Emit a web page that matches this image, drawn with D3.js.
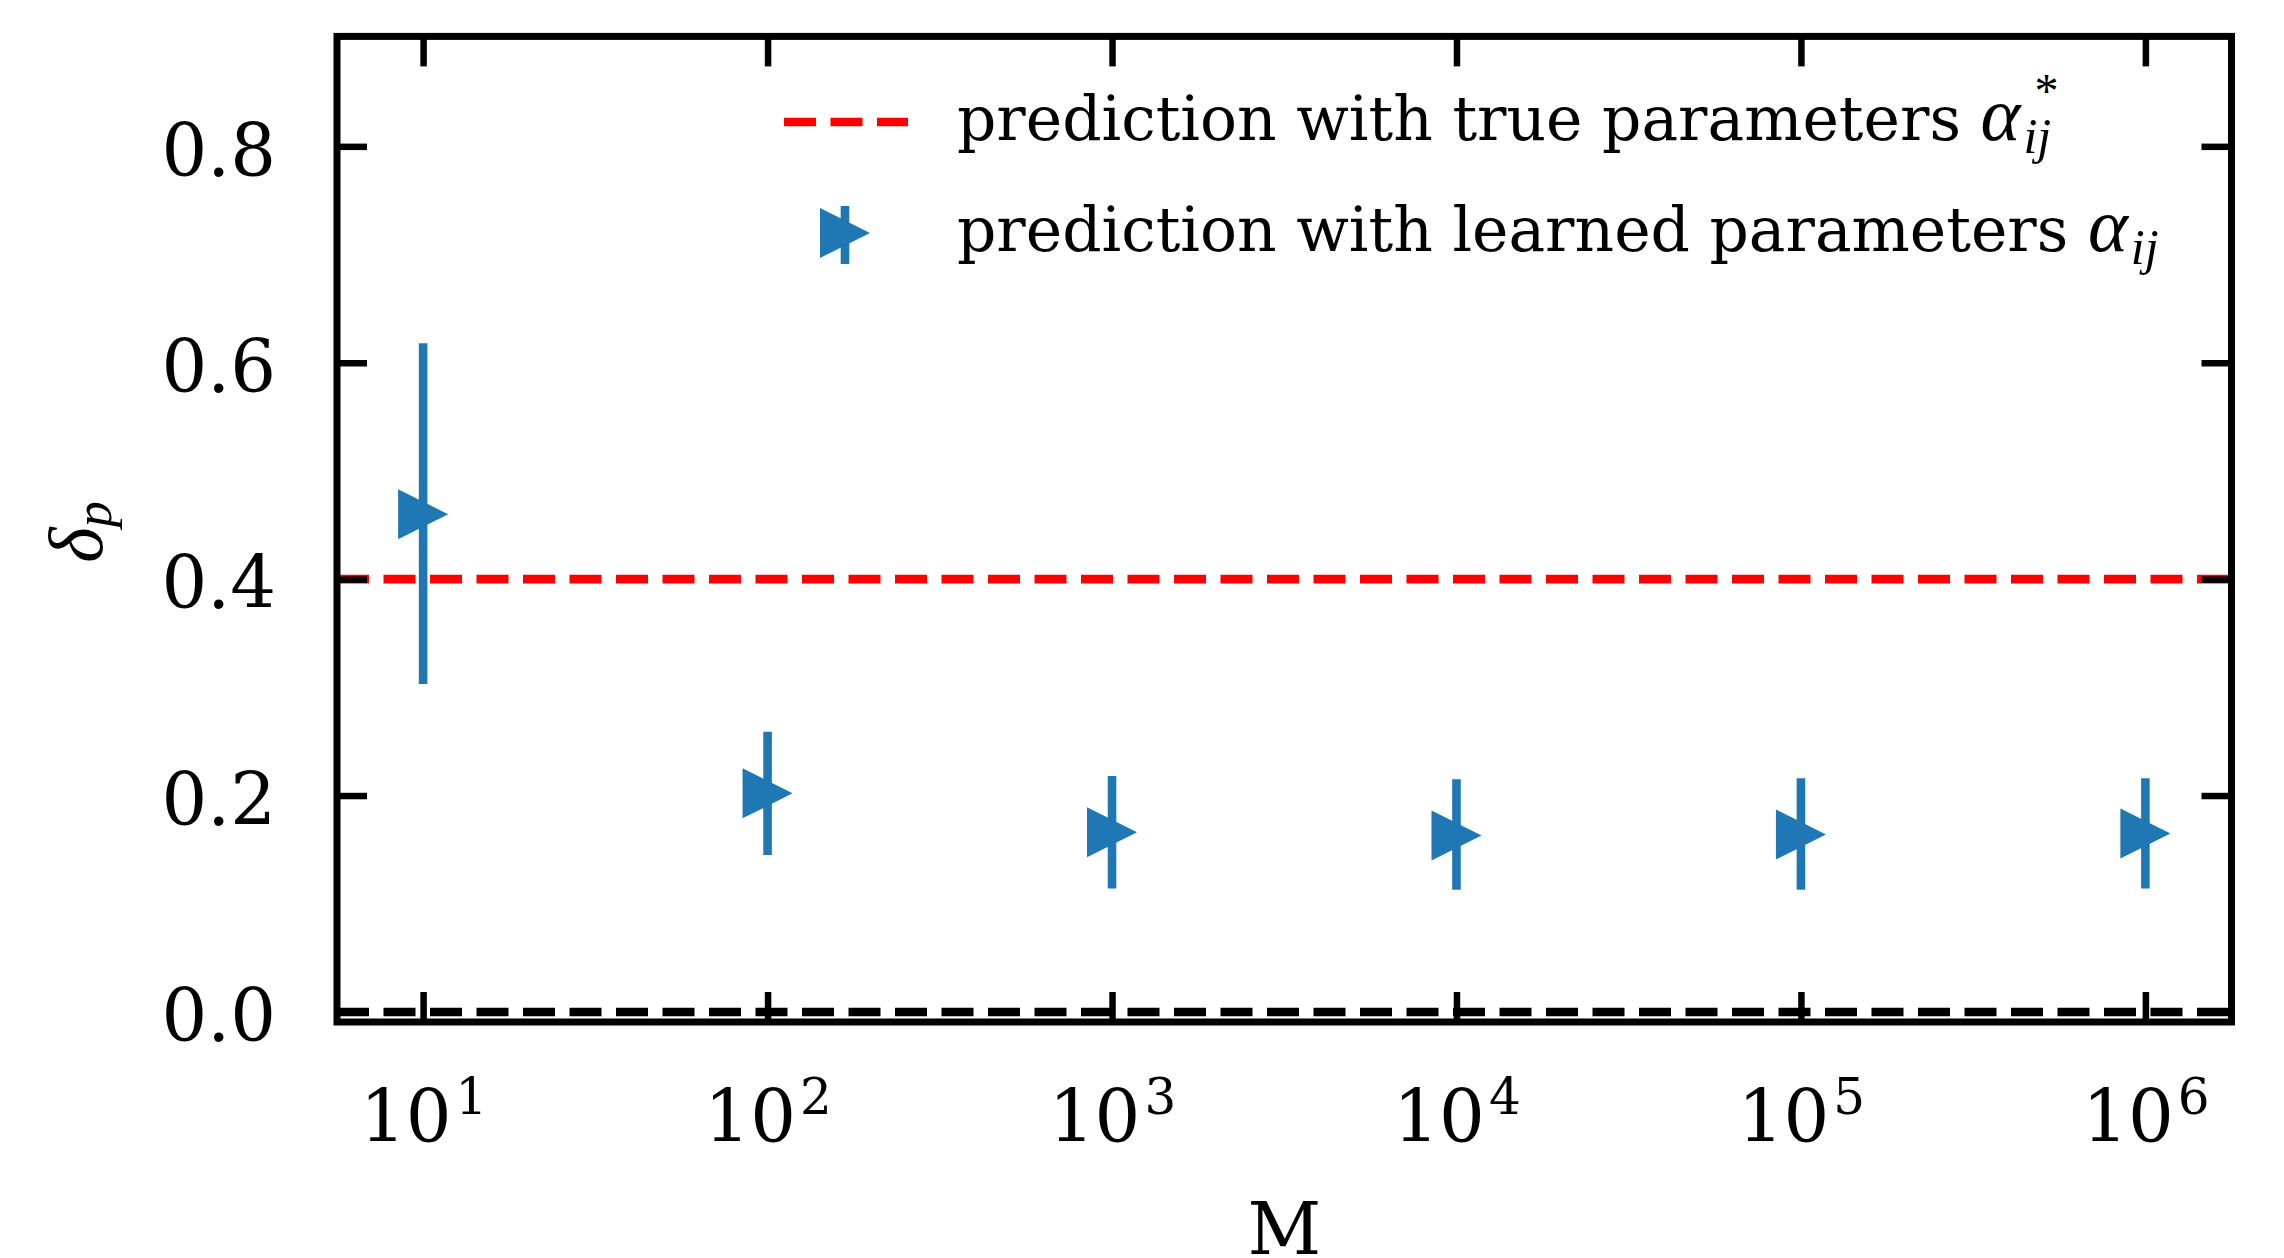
<!DOCTYPE html>
<html lang="en">
<head>
    <meta charset="UTF-8">
    <title>delta_p vs M</title>
    <script src="https://d3js.org/d3.v7.min.js"></script>
    <style>
        body { margin: 0; background: white; }
        svg { display: block; font-family: "DejaVu Serif", serif; }
    </style>
</head>
<body>
    <svg id="chart" width="2284" height="1258"></svg>

    <script>
        // data
        const mValues = [1e1, 1e2, 1e3, 1e4, 1e5, 1e6];
        const deltaLearned = [0.460, 0.202, 0.166, 0.163, 0.164, 0.165];
        const errLow = [0.303, 0.145, 0.114, 0.113, 0.113, 0.114];
        const errHigh = [0.618, 0.259, 0.218, 0.215, 0.216, 0.216];
        const deltaTrue = 0.4;
        const baseline = 0.0;
        const xTicks = [1e1, 1e2, 1e3, 1e4, 1e5, 1e6];
        const yTicks = [0.0, 0.2, 0.4, 0.6, 0.8];

        const svg = d3.select("#chart");
        const plotL = 337, plotR = 2231.5, plotT = 36.4, plotB = 1022;

        const x = d3.scaleLog()
            .domain([Math.pow(10, 0.75), Math.pow(10, 6.25)])
            .range([plotL, plotR]);
        const y = d3.scaleLinear()
            .domain([-0.0093, 0.9016])
            .range([plotB, plotT]);

        const blue = "#1f77b4";
        const lw = 8.6;
        const dash = "32,14.5";
        const mathFont = "Liberation Serif";

        svg.append("rect").attr("width", 2284).attr("height", 1258).attr("fill", "white");

        // horizontal reference lines
        svg.append("line")
            .attr("x1", plotL).attr("x2", plotR)
            .attr("y1", y(deltaTrue)).attr("y2", y(deltaTrue))
            .attr("stroke", "#ff0000").attr("stroke-width", lw)
            .attr("stroke-dasharray", dash);

        svg.append("line")
            .attr("x1", plotL).attr("x2", plotR)
            .attr("y1", y(baseline)).attr("y2", y(baseline))
            .attr("stroke", "black").attr("stroke-width", lw)
            .attr("stroke-dasharray", dash);

        // error bars + markers
        const tri = h => `M${h},0L${-h},${-h}L${-h},${h}Z`;
        const pts = mValues.map((m, i) => ({ m, v: deltaLearned[i], lo: errLow[i], hi: errHigh[i] }));

        svg.append("g").selectAll("line")
            .data(pts)
            .join("line")
            .attr("x1", d => x(d.m)).attr("x2", d => x(d.m))
            .attr("y1", d => y(d.lo)).attr("y2", d => y(d.hi))
            .attr("stroke", blue).attr("stroke-width", lw);

        svg.append("g").selectAll("path")
            .data(pts)
            .join("path")
            .attr("d", tri(25))
            .attr("transform", d => `translate(${x(d.m)},${y(d.v)})`)
            .attr("fill", blue);

        // axes, ticks inward on all sides
        const tickLen = 30, tickW = 6.5, fs = 72;
        const xb = svg.append("g").attr("transform", `translate(0,${plotB})`)
            .call(d3.axisBottom(x).tickValues(xTicks).tickSizeInner(-tickLen).tickSizeOuter(0).tickPadding(68));
        const xt = svg.append("g").attr("transform", `translate(0,${plotT})`)
            .call(d3.axisTop(x).tickValues(xTicks).tickSizeInner(-tickLen).tickSizeOuter(0).tickFormat(""));
        const yl = svg.append("g").attr("transform", `translate(${plotL},0)`)
            .call(d3.axisLeft(y).tickValues(yTicks).tickSizeInner(-tickLen).tickSizeOuter(0).tickPadding(61).tickFormat(d3.format(".1f")));
        const yr = svg.append("g").attr("transform", `translate(${plotR},0)`)
            .call(d3.axisRight(y).tickValues(yTicks).tickSizeInner(-tickLen).tickSizeOuter(0).tickFormat(""));

        [xb, xt, yl, yr].forEach(g => {
            g.select(".domain").remove();
            g.selectAll(".tick line").attr("stroke", "black").attr("stroke-width", tickW);
            g.selectAll("text").attr("fill", "black").attr("font-family", "DejaVu Serif").attr("font-size", fs);
        });

        yl.selectAll("text").attr("dy", "0.40em");

        xb.selectAll("text").each(function (d) {
            const t = d3.select(this).text(null).attr("dy", "0.72em");
            t.append("tspan").text("10");
            t.append("tspan").attr("dx", 4).attr("dy", -28).attr("font-size", 50).text(Math.round(Math.log10(d)));
        });

        // frame
        svg.append("rect")
            .attr("x", plotL).attr("y", plotT)
            .attr("width", plotR - plotL).attr("height", plotB - plotT)
            .attr("fill", "none").attr("stroke", "black").attr("stroke-width", 7);

        // axis labels
        svg.append("text")
            .attr("x", (plotL + plotR) / 2).attr("y", 1254)
            .attr("text-anchor", "middle").attr("font-size", fs)
            .text("M");

        const ylab = svg.append("text")
            .attr("transform", "translate(102,532) rotate(-90)")
            .attr("text-anchor", "middle")
            .attr("font-family", mathFont).attr("font-style", "italic").attr("font-size", 76);
        ylab.append("tspan").text("δ");
        ylab.append("tspan").attr("font-size", 52).attr("dy", 9).text("p");

        // legend
        const legX = 957;
        const leg = svg.append("g");
        leg.append("line")
            .attr("x1", 784).attr("x2", 908).attr("y1", 122).attr("y2", 122)
            .attr("stroke", "#ff0000").attr("stroke-width", lw).attr("stroke-dasharray", dash);
        leg.append("line")
            .attr("x1", 845).attr("x2", 845).attr("y1", 206).attr("y2", 264)
            .attr("stroke", blue).attr("stroke-width", lw);
        leg.append("path").attr("d", tri(25)).attr("transform", "translate(845,233)").attr("fill", blue);

        function legendLabel(base, words, star) {
            const t = leg.append("text").attr("x", legX).attr("y", base).attr("font-size", 61.5);
            t.append("tspan").text(words + " ");
            t.append("tspan").attr("font-family", mathFont).attr("font-style", "italic").attr("font-size", 76).text("α");
            const sub = t.append("tspan").attr("font-family", mathFont).attr("font-style", "italic")
                .attr("font-size", 50).attr("dx", 3).attr("dy", 13).text("ij");
            if (star) {
                const w = sub.node().getComputedTextLength();
                t.append("tspan").attr("font-family", mathFont).attr("font-size", 48)
                    .attr("dx", -w * 0.6).attr("dy", -46).text("*");
            }
        }
        legendLabel(140, "prediction with true parameters", true);
        legendLabel(251, "prediction with learned parameters", false);
    </script>
</body>
</html>
